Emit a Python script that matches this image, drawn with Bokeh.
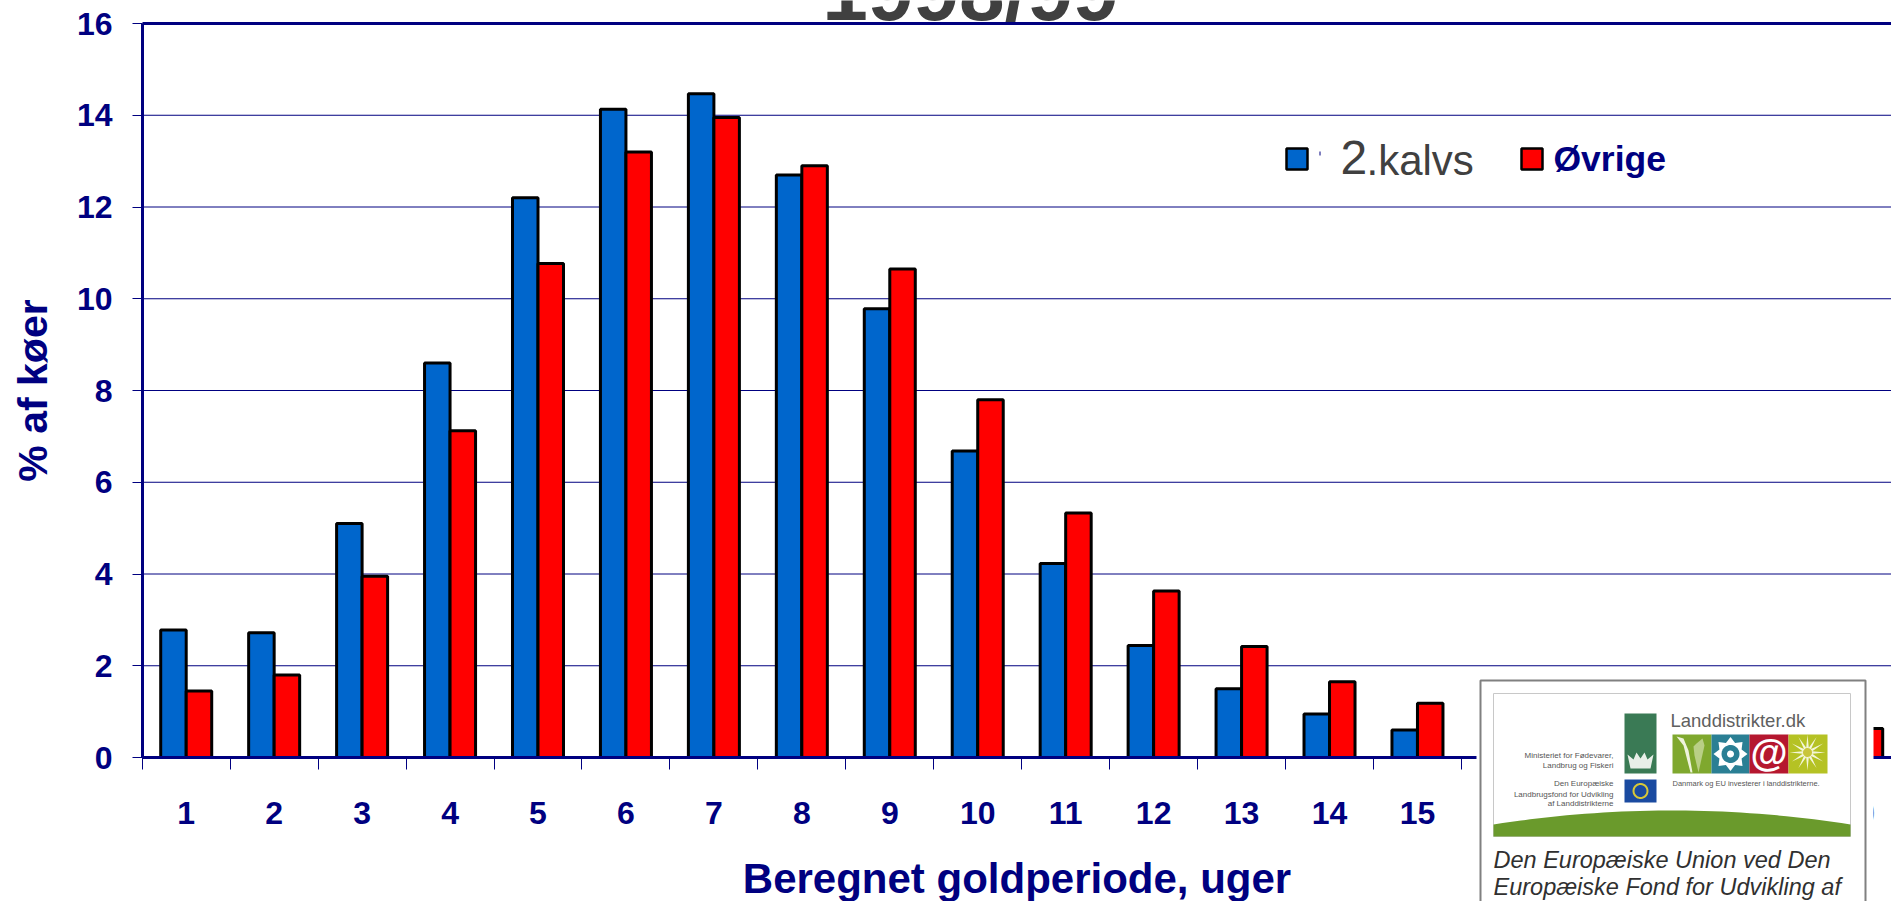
import numpy as np
from bokeh.embed import file_html
from bokeh.models import BoxAnnotation, FixedTicker, Label, PolyAnnotation, Range1d
from bokeh.plotting import figure
from bokeh.resources import INLINE

weeks = list(range(1, 21))
first_calvers = [2.78, 2.72, 5.1, 8.6, 12.2, 14.13, 14.47, 12.7, 9.78, 6.68, 4.23, 2.44, 1.5, 0.95, 0.6,
                 0.4, 0.3, 0.2, 0.15, 0.35]
others = [1.45, 1.8, 3.95, 7.12, 10.77, 13.2, 13.95, 12.9, 10.65, 7.8, 5.33, 3.63, 2.42, 1.65, 1.18,
          0.8, 0.6, 0.45, 0.35, 0.63]
y_ticks = list(range(0, 17, 2))
group_edges = [w - 0.5 for w in weeks] + [20.5]

NAVY = "#000080"
FONT = "Liberation Sans"
W, H = 1891, 901
# The plot area fills the whole canvas, so that the title and inset are not cut by it;
# the visible chart occupies the pixel box below.
LEFT, TOP, BOTTOM = 142, 23, 144
X0, X1 = 0.503, 20.39
PX_PER_X = (W - LEFT) / (X1 - X0)
PX_PER_Y = (H - TOP - BOTTOM) / 16

p = figure(width=W, height=H, output_backend="svg", toolbar_location=None,
           x_range=Range1d(X0 - LEFT / PX_PER_X, X1),
           y_range=Range1d(-BOTTOM / PX_PER_Y, 16 + TOP / PX_PER_Y),
           min_border_left=0, min_border_right=0, min_border_top=0, min_border_bottom=0,
           x_axis_label="Beregnet goldperiode, uger", y_axis_label="% af køer")
p.outline_line_color = None
p.background_fill_color = "white"
p.border_fill_color = "white"
p.grid.visible = False

# Grid lines
n = len(y_ticks)
p.segment(x0=[X0] * n, x1=[X1] * n, y0=y_ticks, y1=y_ticks, line_color=NAVY,
          line_width=[3 if t == 16 else 1 for t in y_ticks])

offset = 0.145
p.vbar(x=np.array(weeks) - offset, top=first_calvers, width=0.29, fill_color="#0066cc",
       line_color="black", line_width=3)
p.vbar(x=np.array(weeks) + offset, top=others, width=0.29, fill_color="#ff0000",
       line_color="black", line_width=3)

xa = p.xaxis[0]
xa.fixed_location = 0
# The axis runs on past the right edge of the picture, which centres its label as in the reference
xa.bounds = (X0, X1 + 9 / PX_PER_X)
xa.ticker = FixedTicker(ticks=weeks, minor_ticks=group_edges)
xa.major_tick_line_color = None
xa.minor_tick_in = 0
xa.minor_tick_out = 12
xa.minor_tick_line_color = NAVY
xa.minor_tick_line_width = 1
xa.axis_line_color = NAVY
xa.axis_line_width = 3
xa.major_label_standoff = 32
xa.major_label_text_font = FONT
xa.major_label_text_font_style = "bold"
xa.major_label_text_font_size = "32px"
xa.major_label_text_color = NAVY
xa.axis_label_text_font = FONT
xa.axis_label_text_font_style = "bold"
xa.axis_label_text_font_size = "42px"
xa.axis_label_text_color = NAVY
xa.axis_label_standoff = 28

ya = p.yaxis[0]
ya.fixed_location = X0
ya.bounds = (0, 16)
ya.ticker = FixedTicker(ticks=y_ticks)
ya.minor_tick_line_color = None
ya.major_tick_in = 0
ya.major_tick_out = 10
ya.major_tick_line_color = NAVY
ya.major_tick_line_width = 1
ya.axis_line_color = NAVY
ya.axis_line_width = 3
ya.major_label_standoff = 20
ya.major_label_text_font = FONT
ya.major_label_text_font_style = "bold"
ya.major_label_text_font_size = "32px"
ya.major_label_text_color = NAVY
ya.axis_label_text_font = FONT
ya.axis_label_text_font_style = "bold"
ya.axis_label_text_font_size = "41px"
ya.axis_label_text_color = NAVY
ya.axis_label_standoff = 18


def label(x, y, text, size, color="#000000", style="normal", align="left", font=FONT, level="overlay"):
    # y is the text's baseline in picture pixels; Label's alphabetic anchor sits lower than that
    p.add_layout(Label(x=x, y=y - 0.39 * size, x_units="canvas", y_units="canvas", text=text,
                       text_font=font, text_font_size=f"{size}px", text_color=color,
                       text_font_style=style, text_align=align, text_baseline="alphabetic", level=level))


def box(x0, y0, x1, y1, fill, line=None, lw=1):
    p.add_layout(BoxAnnotation(left=x0, right=x1, top=y0, bottom=y1,
                               left_units="canvas", right_units="canvas",
                               top_units="canvas", bottom_units="canvas",
                               fill_color=fill, fill_alpha=1 if fill else 0,
                               line_color=line, line_width=lw, line_alpha=1 if line else 0,
                               level="overlay"))


def poly(xs, ys, fill, line=None, lw=1):
    p.add_layout(PolyAnnotation(xs=list(xs), ys=list(ys),
                                xs_units="canvas", ys_units="canvas",
                                fill_color=fill, fill_alpha=1 if fill else 0,
                                line_color=line, line_width=lw, line_alpha=1 if line else 0,
                                level="overlay"))


def star(cxp, cyp, r0, r1, n):
    a = np.linspace(0, 2 * np.pi, 2 * n, endpoint=False)
    r = np.where(np.arange(2 * n) % 2 == 0, r0, r1)
    return list(cxp + r * np.cos(a)), list(cyp + r * np.sin(a))


# Title, cut by the top of the page and lying under the axis line
label(970, 23, "1998/99", 82, "#404040", "bold", "center", level="image")

# Legend
box(1286, 148, 1307, 169, "#0066cc", "black", 2.5)
box(1319, 151, 1320, 155, NAVY)
label(1340, 176, "2", 48, "#404040")
label(1366, 176, ".kalvs", 42, "#404040")
box(1521, 148, 1542, 169, "#ff0000", "black", 2.5)
label(1553, 172, "Øvrige", 35.5, NAVY, "bold")

# Inset panel lying over the chart
box(1476, 672, 1873, 910, "white")
box(1480, 680, 1865, 910, "white", "#808080", 2)
box(1493, 693, 1850, 836, "white", "#c8c8c8", 1)

t = np.linspace(-1, 1, 40)
poly([1493] + list(1671.5 + 178.5 * t) + [1850], [836] + list(810 + 14 * t ** 2) + [836], "#6a9a2c")

box(1624, 713, 1656, 773, "#3a7a55")
poly([1630, 1650, 1653, 1647, 1644, 1640, 1636, 1633, 1627],
     [768, 768, 754, 759, 752, 758, 752, 759, 754], "#e8efe8")
box(1624, 779, 1656, 802, "#1a4aa0")
a = np.linspace(0, 2 * np.pi, 30)
poly(1640 + 7 * np.cos(a), 790.5 + 7 * np.sin(a), None, "#d8c838", 2)

label(1670, 727, "Landdistrikter.dk", 18.5, "#606060")

box(1672, 734, 1711, 773, "#7fa82e")
poly([1676, 1683, 1690, 1692, 1688, 1683], [736, 745, 772, 772, 750, 738], "#eef3dc")
poly([1698, 1694, 1693, 1696, 1702, 1704], [772, 755, 746, 743, 738, 745], "#b9cf86")
box(1711, 734, 1749, 773, "#2a7f94")
gx, gy = star(1730, 753.5, 17, 12, 8)
poly(gx, gy, "white")
poly(1730 + 9 * np.cos(a), 753.5 + 9 * np.sin(a), "#2a7f94")
poly(1730 + 3.5 * np.cos(a), 753.5 + 3.5 * np.sin(a), "white")
box(1749, 734, 1788, 773, "#b5172f")
label(1768.5, 767, "@", 38, "white", "bold", "center")
box(1788, 734, 1827, 773, "#b5c224")
fx, fy = star(1807, 752, 18, 5, 12)
poly(fx, fy, "#f4f6d8")
poly(1807 + 4.5 * np.cos(a), 752 + 4.5 * np.sin(a), "#c9c53a")

label(1672, 786, "Danmark og EU investerer i landdistrikterne.", 7.5, "#555555")
label(1613, 758, "Ministeriet for Fødevarer,", 8, "#555555", align="right")
label(1613, 768, "Landbrug og Fiskeri", 8, "#555555", align="right")
label(1613, 786, "Den Europæiske", 8, "#555555", align="right")
label(1613, 797, "Landbrugsfond for Udvikling", 8, "#555555", align="right")
label(1613, 806, "af Landdistrikterne", 8, "#555555", align="right")

label(1493, 869, "Den Europæiske Union ved Den", 23.5, "#303030", "italic")
label(1493, 896, "Europæiske Fond for Udvikling af", 23.5, "#303030", "italic")

open("out.html", "w").write(file_html(p, INLINE))
